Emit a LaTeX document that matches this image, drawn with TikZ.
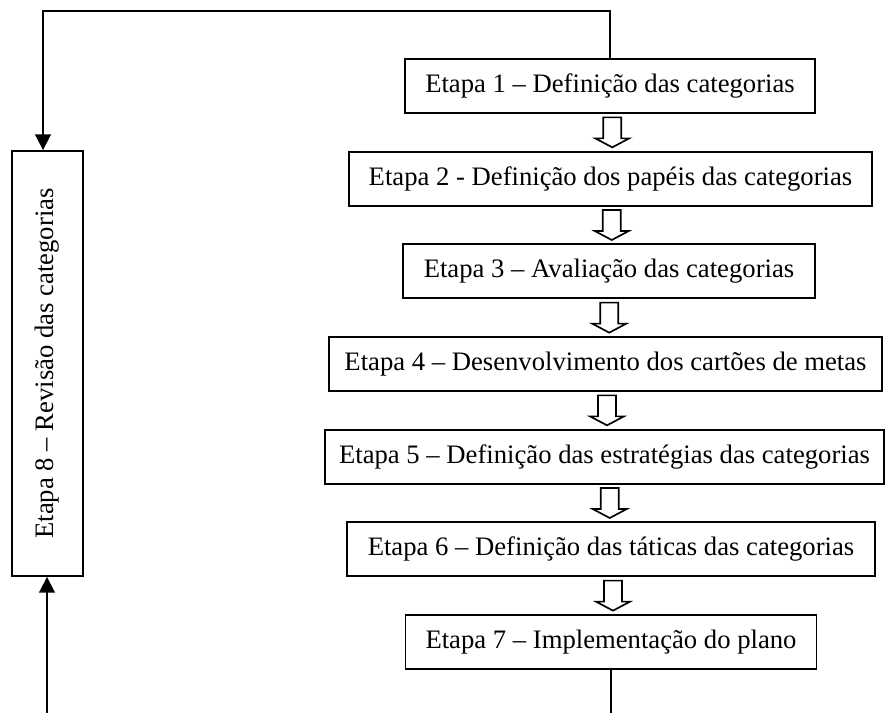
\documentclass[tikz,border=0pt]{standalone}
\usepackage{fontspec}
\setmainfont{Liberation Serif}
\usetikzlibrary{arrows.meta}

\tikzset{
  etapa/.style={draw, line width=0.9pt, minimum height=25.9pt, inner sep=0pt,
    font=\fontsize{12.8}{15}\selectfont},
  fluxo/.style={line width=0.9pt},
  seta/.style={line width=0.8pt, line join=miter}
}

\begin{document}
\begin{tikzpicture}[x=0.48pt,y=-0.48pt]
\useasboundingbox (0,0) rectangle (887,713);

\node[etapa, minimum width=196.8pt] (etapa1) at (610,86) {Etapa 1 -- Definição das categorias};
\node[etapa, minimum width=251pt] (etapa2) at (610.5,178.7) {Etapa 2 - Definição dos papéis das categorias};
\node[etapa, minimum width=197.8pt] (etapa3) at (609,271.3) {Etapa 3 -- Avaliação das categorias};
\node[etapa, minimum width=265.4pt] (etapa4) at (605.5,364) {Etapa 4 -- Desenvolvimento dos cartões de metas};
\node[etapa, minimum width=268.3pt] (etapa5) at (604.5,456.7) {Etapa 5 -- Definição das estratégias das categorias};
\node[etapa, minimum width=253.4pt] (etapa6) at (611,549.3) {Etapa 6 -- Definição das táticas das categorias};
\node[etapa, minimum width=197.3pt] (etapa7) at (611,642) {Etapa 7 -- Implementação do plano};

\node[etapa, rotate=90, minimum width=204pt, minimum height=34.1pt] (etapa8) at (47.5,363.5) {Etapa 8 -- Revisão das categorias};

% setas vazadas entre as etapas
\foreach \i/\j in {1/2,2/3,3/4,4/5,5/6,6/7}{
  \path (etapa\i.south) -- (etapa\j.north) coordinate[midway] (m\i);
  \draw[seta, shift={(m\i)}] (-7,-15) -- (11,-15) -- (11,6) -- (19,6) -- (2,15) -- (-15,6) -- (-7,6) -- cycle;
}

% retorno
\coordinate (ctopo) at (43,11);
\coordinate (cbase) at (47,713);
\draw[fluxo, -{Triangle[width=7.5pt,length=7.5pt]}] (etapa1.north) |- (ctopo) -- (ctopo |- etapa8.east);
\draw[fluxo] (etapa7.south) -- (etapa7.south |- cbase);
\draw[fluxo, -{Triangle[width=7.5pt,length=7.5pt]}] (cbase) -- (cbase |- etapa8.west);
\end{tikzpicture}
\end{document}
